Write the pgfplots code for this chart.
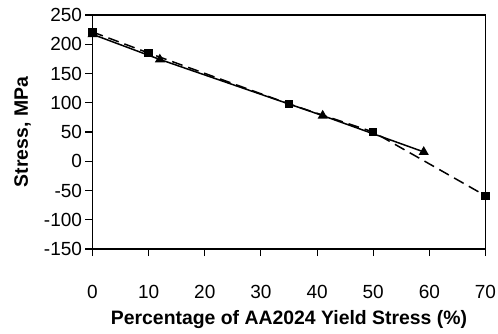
\documentclass[border=0pt]{standalone}
\usepackage{pgfplots}
\pgfplotsset{compat=1.18}
\usepackage{fontspec}
\setmainfont{Liberation Sans}
\begin{document}
\begin{tikzpicture}[x=1pt,y=1pt]
\useasboundingbox (-92.5,-84) rectangle (405.5,249);
\begin{axis}[
  at={(0,0)}, anchor=south west,
  scale only axis, width=393pt, height=234pt,
  xmin=0, xmax=70, ymin=-150, ymax=250,
  xtick={0,10,...,70}, ytick={-150,-100,...,250},
  axis x line*=bottom, axis y line*=left,
  tick align=outside, major tick length=7pt,
  tick style={black, line width=1.1pt},
  axis line style={line width=1.1pt},
  tick label style={font=\fontsize{19}{22}\selectfont},
  /pgf/number format/assume math mode=true,
  xticklabel style={anchor=north, yshift=-26pt},
  xlabel={\textbf{Percentage of AA2024 Yield Stress (\%)}},
  ylabel={\textbf{Stress, MPa}},
  label style={font=\fontsize{19.4}{22}\selectfont},
  xlabel style={at={(axis description cs:0.5,0)}, anchor=center, yshift=-71pt},
  ylabel style={at={(axis description cs:0,0.5)}, anchor=center, yshift=70pt},
  clip=false,
]
\draw[line width=1.1pt] (axis cs:0,250) -- (axis cs:70,250) -- (axis cs:70,-150);
\addplot[black, line width=1.5pt, dash pattern=on 11pt off 6pt, mark=square*, mark size=3.4pt, mark options={solid}]
 coordinates {(0,221) (10,185) (35,98) (50,50) (70,-59)};
\addplot[black, line width=1.5pt, mark=triangle*, mark size=4.3pt, mark options={solid}]
 coordinates {(0,217) (12,174) (41,78) (59,16)};
\end{axis}
\end{tikzpicture}
\end{document}
